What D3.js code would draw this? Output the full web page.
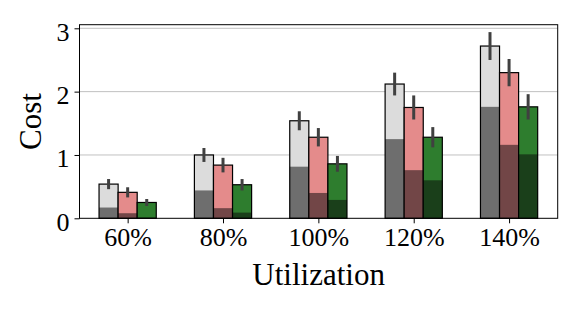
<!DOCTYPE html>
<html lang="en">
<head>
<meta charset="utf-8">
<style>
  body { margin: 0; background: white; }
  svg { display: block; font-family: "Liberation Serif", "Times New Roman", serif; }
  .grid line { stroke: #b0b0b0; stroke-width: 0.8px; }
  .tick text { font-size: 26px; fill: black; font-family: "Liberation Serif", "Times New Roman", serif; }
</style>
<script src="https://d3js.org/d3.v7.min.js"></script>
</head>
<body>
<script>
// data
var categories = ["60%", "80%", "100%", "120%", "140%"];
var series = ["gray", "red", "green"];
var totals = [
  [0.54, 1.00, 1.54, 2.12, 2.72],   // gray
  [0.41, 0.84, 1.28, 1.75, 2.30],   // red
  [0.25, 0.53, 0.86, 1.28, 1.76]    // green
];
var lower = [
  [0.17, 0.44, 0.815, 1.25, 1.76],
  [0.08, 0.16, 0.40, 0.76, 1.16],
  [0.01, 0.09, 0.29, 0.60, 1.01]
];
var errs = [
  [0.08, 0.11, 0.15, 0.18, 0.22],
  [0.08, 0.115, 0.145, 0.19, 0.215],
  [0.055, 0.09, 0.125, 0.16, 0.20]
];
var yTicks = [0, 1, 2, 3];

var lightColors = ["#dcdcdc", "#e48b8b", "#2e7d2e"];
var darkColors = ["#6e6e6e", "#724647", "#1a3f1a"];

var width = 574, height = 310;
var margin = {left: 79.5, right: 16.3, top: 24.7, bottom: 91.7};

var svg = d3.select("body").append("svg")
    .attr("width", width)
    .attr("height", height);

var x = d3.scaleLinear().domain([-0.505, 4.51]).range([margin.left, width - margin.right]);
var y = d3.scaleLinear().domain([0, 3.057]).range([height - margin.bottom, margin.top]);
var barW = 0.2;
var offsets = [-0.2, 0, 0.2];

// gridlines
svg.append("g").attr("class", "grid")
  .selectAll("line")
  .data(yTicks.filter(function(d) { return d > 0; }))
  .enter().append("line")
  .attr("x1", x.range()[0]).attr("x2", x.range()[1])
  .attr("y1", function(d) { return y(d); })
  .attr("y2", function(d) { return y(d); });

var rows = [];
series.forEach(function(s, si) {
  categories.forEach(function(c, ci) {
    rows.push({s: si, c: ci, total: totals[si][ci], low: lower[si][ci], err: errs[si][ci]});
  });
});

var g = svg.append("g");
var bars = g.selectAll("g.bar").data(rows).enter().append("g").attr("class", "bar");

function bx(d) { return x(d.c + offsets[d.s] - barW / 2); }
var bw = x(barW) - x(0);

bars.append("rect")
  .attr("x", bx).attr("width", bw)
  .attr("y", function(d) { return y(d.total); })
  .attr("height", function(d) { return y(0) - y(d.total); })
  .attr("fill", function(d) { return lightColors[d.s]; });

bars.append("rect")
  .attr("x", bx).attr("width", bw)
  .attr("y", function(d) { return y(d.low); })
  .attr("height", function(d) { return y(0) - y(d.low); })
  .attr("fill", function(d) { return darkColors[d.s]; });

bars.append("rect")
  .attr("x", bx).attr("width", bw)
  .attr("y", function(d) { return y(d.total); })
  .attr("height", function(d) { return y(0) - y(d.total); })
  .attr("fill", "none")
  .attr("stroke", "black")
  .attr("stroke-width", 1.2);

bars.append("line")
  .attr("x1", function(d) { return x(d.c + offsets[d.s]); })
  .attr("x2", function(d) { return x(d.c + offsets[d.s]); })
  .attr("y1", function(d) { return y(d.total - d.err); })
  .attr("y2", function(d) { return y(d.total + d.err); })
  .attr("stroke", "#404040")
  .attr("stroke-width", 3);

// frame
svg.append("rect")
  .attr("x", x.range()[0]).attr("y", y.range()[1])
  .attr("width", x.range()[1] - x.range()[0])
  .attr("height", y.range()[0] - y.range()[1])
  .attr("fill", "none").attr("stroke", "black").attr("stroke-width", 1);

// axes
var xAxis = d3.axisBottom(x)
  .tickValues(d3.range(categories.length))
  .tickFormat(function(i) { return categories[i]; })
  .tickSize(5).tickPadding(4);
var xg = svg.append("g").attr("transform", "translate(0," + y(0) + ")").call(xAxis);
xg.select(".domain").remove();
xg.selectAll(".tick text").attr("dy", "0.72em");

var yAxis = d3.axisLeft(y).tickValues(yTicks).tickFormat(d3.format("d")).tickSize(5).tickPadding(5);
var yg = svg.append("g").attr("transform", "translate(" + x.range()[0] + ",0)").call(yAxis);
yg.select(".domain").remove();
yg.selectAll(".tick text").attr("dy", "0.45em");

svg.append("text")
  .attr("x", (x.range()[0] + x.range()[1]) / 2)
  .attr("y", 285)
  .attr("text-anchor", "middle")
  .style("font-size", "31px")
  .text("Utilization");

svg.append("text")
  .attr("transform", "translate(41," + (y(0) + y(3.057)) / 2 + ") rotate(-90)")
  .attr("text-anchor", "middle")
  .style("font-size", "31px")
  .text("Cost");
</script>
</body>
</html>
